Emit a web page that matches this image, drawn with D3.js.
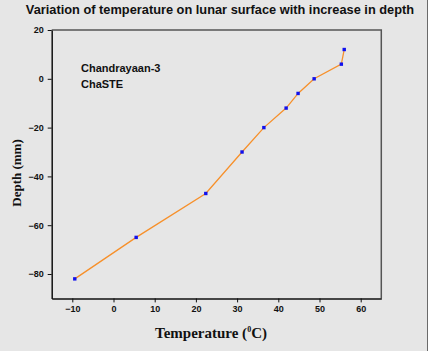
<!DOCTYPE html>
<html>
<head>
<meta charset="utf-8">
<script src="https://cdn.jsdelivr.net/npm/d3@7"></script>
<style>
  html, body { margin: 0; padding: 0; background: #e6e6e6; }
  svg { display: block; }
</style>
</head>
<body>
<div id="chart"></div>
<script>
// ChaSTE probe readings: temperature (°C) vs depth (mm)
const temperature = [-9.4, 5.5, 22.4, 31.2, 36.5, 41.9, 44.8, 48.7, 55.3, 56.0];
const depth       = [-82, -65, -47, -30, -20, -12, -6, 0, 6, 12];
const xTicks = [-10, 0, 10, 20, 30, 40, 50, 60];
const yTicks = [-80, -60, -40, -20, 0, 20];

const W = 428, H = 351;
const plot = { left: 51.7, right: 381.3, top: 30, bottom: 298.4 };

const svg = d3.select('#chart').append('svg')
  .attr('width', W).attr('height', H);

svg.append('rect').attr('width', W).attr('height', H).attr('fill', '#e6e6e6');
// thin dark edge on the right of the picture
svg.append('line').attr('x1', 427.5).attr('x2', 427.5).attr('y1', 0).attr('y2', H)
  .attr('stroke', '#6a6a6a').attr('stroke-width', 1);

const x = d3.scaleLinear().domain([-15, 65]).range([plot.left, plot.right]);
const y = d3.scaleLinear().domain([-90, 20]).range([plot.bottom, plot.top]);

// frame: top/right grey, left/bottom via axes
svg.append('path')
  .attr('d', `M${plot.left},${plot.top}H${plot.right}V${plot.bottom}`)
  .attr('fill', 'none').attr('stroke', '#555').attr('stroke-width', 1.5);

svg.append('g')
  .attr('transform', `translate(0,${plot.bottom})`)
  .call(d3.axisBottom(x).tickValues(xTicks).tickSize(4).tickSizeOuter(0).tickPadding(3))
  .call(g => g.select('.domain').attr('stroke', '#111').attr('stroke-width', 1.5))
  .call(g => g.selectAll('.tick line').attr('stroke', '#111'))
  .call(g => g.selectAll('.tick text')
    .style('font-family', 'Liberation Sans, Arial, sans-serif')
    .style('font-weight', 'bold').style('font-size', '9px').attr('fill', '#111'));

svg.append('g')
  .attr('transform', `translate(${plot.left},0)`)
  .call(d3.axisLeft(y).tickValues(yTicks).tickSize(4).tickSizeOuter(0).tickPadding(4))
  .call(g => g.select('.domain').attr('stroke', '#111').attr('stroke-width', 1.5))
  .call(g => g.selectAll('.tick line').attr('stroke', '#111'))
  .call(g => g.selectAll('.tick text')
    .style('font-family', 'Liberation Sans, Arial, sans-serif')
    .style('font-weight', 'bold').style('font-size', '9px').attr('fill', '#111'));

const pts = temperature.map((t, i) => ({ t, d: depth[i] }));

svg.append('path')
  .datum(pts)
  .attr('fill', 'none')
  .attr('stroke', '#f7902a')
  .attr('stroke-width', 1.3)
  .attr('d', d3.line().x(p => x(p.t)).y(p => y(p.d)));

svg.selectAll('.pt').data(pts).join('rect')
  .attr('class', 'pt')
  .attr('x', p => x(p.t) - 1.7).attr('y', p => y(p.d) - 1.7)
  .attr('width', 3.4).attr('height', 3.4)
  .attr('fill', '#1010ee');

// title
svg.append('text')
  .attr('x', 220).attr('y', 14)
  .attr('text-anchor', 'middle')
  .style('font-family', 'Liberation Sans, Arial, sans-serif')
  .style('font-weight', 'bold').style('font-size', '12.8px').attr('fill', '#111')
  .text('Variation of temperature on lunar surface with increase in depth');

// annotation
const ann = svg.append('text')
  .style('font-family', 'Liberation Sans, Arial, sans-serif')
  .style('font-weight', 'bold').style('font-size', '11px').attr('fill', '#111');
ann.append('tspan').attr('x', 81).attr('y', 72).text('Chandrayaan-3');
ann.append('tspan').attr('x', 81).attr('y', 88).text('ChaSTE');

// axis titles
svg.append('text')
  .attr('transform', 'translate(21,173) rotate(-90)')
  .attr('text-anchor', 'middle')
  .style('font-family', 'Liberation Serif, Times New Roman, serif')
  .style('font-weight', 'bold').style('font-size', '13px').attr('fill', '#111')
  .text('Depth (mm)');

const xl = svg.append('text')
  .attr('x', 211).attr('y', 338)
  .attr('text-anchor', 'middle')
  .style('font-family', 'Liberation Serif, Times New Roman, serif')
  .style('font-weight', 'bold').style('font-size', '15px').attr('fill', '#111');
xl.append('tspan').text('Temperature (');
xl.append('tspan').attr('dy', -6).style('font-size', '8px').text('0');
xl.append('tspan').attr('dy', 6).text('C)');
</script>
</body>
</html>
